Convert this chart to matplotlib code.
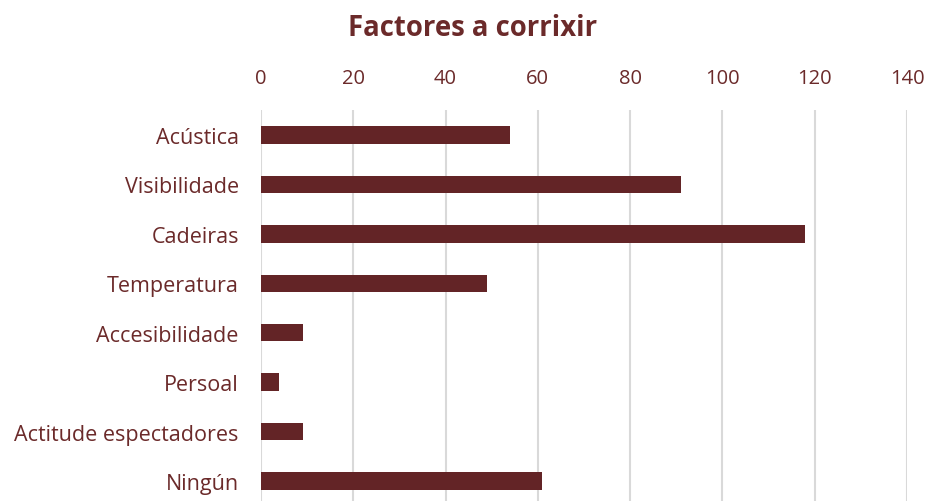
import matplotlib

matplotlib.use("Agg")
import matplotlib.pyplot as plt
import numpy as np

CATEGORIES = [
    "Acústica",
    "Visibilidade",
    "Cadeiras",
    "Temperatura",
    "Accesibilidade",
    "Persoal",
    "Actitude espectadores",
    "Ningún",
]
COUNTS = [54, 91, 118, 49, 9, 4, 9, 61]
TICKS = [0, 20, 40, 60, 80, 100, 120, 140]

BAR = "#632426"
TEXT = "#6b2a2a"
GRID = "#d9d9d9"

plt.rcParams["font.family"] = ["Open Sans", "DejaVu Sans"]

fig = plt.figure(figsize=(9.27, 5.02), dpi=100)
ax = fig.add_axes([261 / 927, 1 - 506.7 / 502, 646 / 927, 395.4 / 502])

y = np.arange(len(CATEGORIES))
ax.barh(y, COUNTS, height=0.35, color=BAR, zorder=3)

ax.set_xlim(0, 140)
ax.set_ylim(len(CATEGORIES) - 0.5, -0.5)
ax.set_yticks(y)
ax.set_yticklabels(CATEGORIES)
ax.set_xticks(TICKS)
ax.xaxis.tick_top()
ax.tick_params(axis="x", length=0, pad=16, labelsize=14.5, labelcolor=TEXT)
ax.tick_params(axis="y", length=0, pad=16, labelsize=15.5, labelcolor=TEXT)
ax.grid(axis="x", color=GRID, linewidth=1.5, zorder=0)
for side in ax.spines.values():
    side.set_visible(False)

fig.text(473 / 927, 1 - 28 / 502, "Factores a corrixir", ha="center", va="center",
         fontsize=19.8, fontweight="bold", color=TEXT)

fig.savefig("out.png", dpi=100)
